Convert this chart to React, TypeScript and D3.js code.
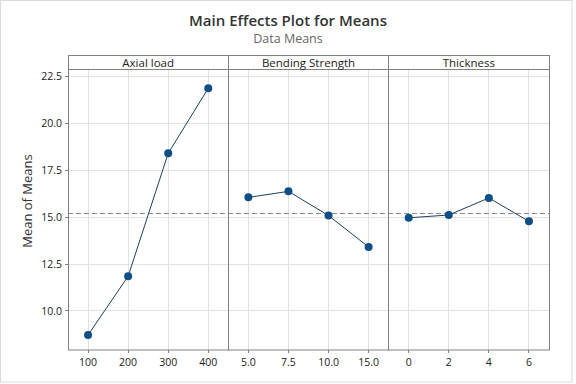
import React from "react";
import * as d3 from "d3";

const factorNames = ["Axial load", "Bending Strength", "Thickness"];
const axialLevels = ["100", "200", "300", "400"];
const axialMeans = [8.72, 11.85, 18.41, 21.88];
const bendingLevels = ["5.0", "7.5", "10.0", "15.0"];
const bendingMeans = [16.06, 16.38, 15.09, 13.41];
const thicknessLevels = ["0", "2", "4", "6"];
const thicknessMeans = [14.97, 15.12, 16.03, 14.78];
const yTicks = [10.0, 12.5, 15.0, 17.5, 20.0, 22.5];
const grandMean = 15.22;

const W = 576;
const H = 384;
const FONT = "'Open Sans', 'Noto Sans', sans-serif";

export default function App() {
  const left = 68, right = 549, top = 55.5, headBottom = 69.5, bottom = 350;
  const y = d3.scaleLinear().domain([7.92, 22.89]).range([bottom, 69.3]);
  const band = d3.scaleBand<string>().domain(factorNames).range([left, right]).padding(0);
  const panels = [
    { name: factorNames[0], levels: axialLevels, means: axialMeans },
    { name: factorNames[1], levels: bendingLevels, means: bendingMeans },
    { name: factorNames[2], levels: thicknessLevels, means: thicknessMeans },
  ];
  const gridColor = "#e2e2e2";
  const borderColor = "#808080";
  const px = (v: number) => Math.floor(v) + 0.5;

  return (
    <svg width={W} height={H} style={{ position: "absolute", left: 0, top: 0, background: "#fff" }} fontFamily={FONT}>
      <rect x={0.5} y={0.5} width={571.5} height={381.5} fill="#fff" stroke="#dcdcdc" />
      <text x={288} y={25.5} textAnchor="middle" fontSize={15} fontWeight={600} fill="#333">Main Effects Plot for Means</text>
      <text x={288} y={43} textAnchor="middle" fontSize={12.5} fill="#666">Data Means</text>
      <text transform={`translate(32,201) rotate(-90)`} textAnchor="middle" fontSize={13} fill="#333">Mean of Means</text>

      {yTicks.map((t) => (
        <line key={"hg" + t} x1={left} x2={right} y1={px(y(t))} y2={px(y(t))} stroke={gridColor} strokeWidth={1} />
      ))}
      {panels.map((p) => {
        const bx = band(p.name)!;
        const bw = band.bandwidth();
        const x = d3.scalePoint<string>().domain(p.levels).range([bx, bx + bw]).padding(0.5);
        return (
          <g key={p.name}>
            {p.levels.map((l) => (
              <line key={"vg" + l} x1={px(x(l)!)} x2={px(x(l)!)} y1={headBottom} y2={bottom} stroke={gridColor} />
            ))}
          </g>
        );
      })}
      <line x1={left} x2={right} y1={px(y(grandMean))} y2={px(y(grandMean))} stroke="#8c8c8c" strokeDasharray="5,3" />
      {panels.map((p) => {
        const bx = band(p.name)!;
        const bw = band.bandwidth();
        const x0 = px(bx);
        const x1 = px(bx + bw);
        const x = d3.scalePoint<string>().domain(p.levels).range([bx, bx + bw]).padding(0.5);
        const line = d3.line<number>().x((_, i) => x(p.levels[i])!).y((d) => y(d));
        return (
          <g key={"d" + p.name}>
            <rect x={x0} y={top} width={x1 - x0} height={bottom - top} fill="none" stroke={borderColor} />
            <line x1={x0} x2={x1} y1={headBottom} y2={headBottom} stroke={borderColor} />
            <text x={bx + bw / 2} y={66.5} textAnchor="middle" fontSize={11.5} fill="#222">{p.name}</text>
            <path d={line(p.means) || ""} fill="none" stroke="#1c3f66" strokeWidth={1} />
            {p.means.map((m, i) => (
              <circle key={i} cx={x(p.levels[i])!} cy={y(m)} r={4} fill="#0f4f86" />
            ))}
            {p.levels.map((l) => (
              <g key={"xt" + l}>
                <line x1={px(x(l)!)} x2={px(x(l)!)} y1={bottom} y2={bottom + 3} stroke={borderColor} />
                <text x={x(l)!} y={365.5} textAnchor="middle" fontSize={10.5} fill="#222">{l}</text>
              </g>
            ))}
          </g>
        );
      })}
      {yTicks.map((t) => (
        <g key={"yt" + t}>
          <line x1={left - 3} x2={left} y1={px(y(t))} y2={px(y(t))} stroke={borderColor} />
          <text x={62} y={y(t) + 3.8} textAnchor="end" fontSize={10.5} fill="#222">{t.toFixed(1)}</text>
        </g>
      ))}
    </svg>
  );
}
